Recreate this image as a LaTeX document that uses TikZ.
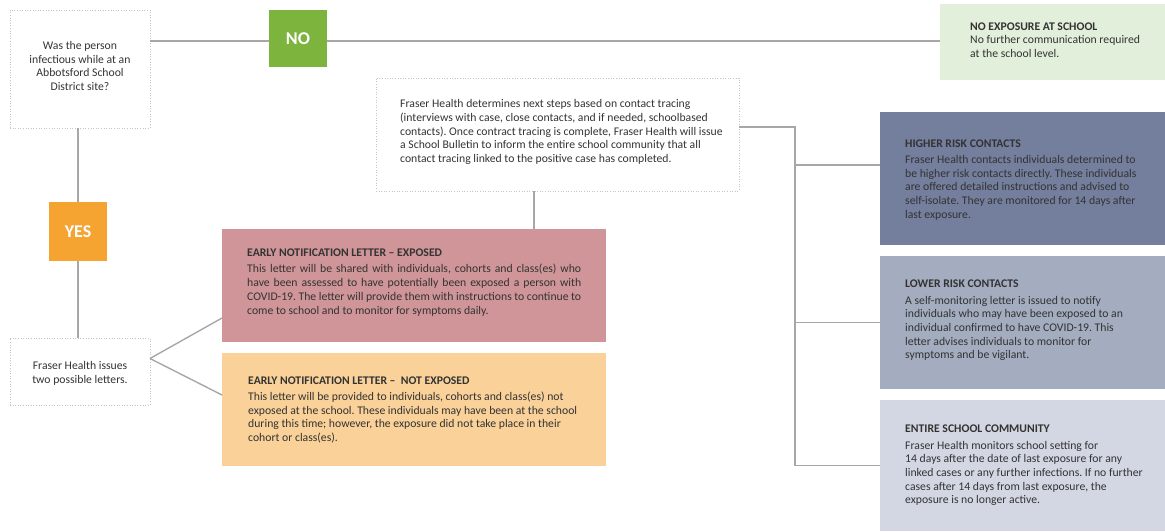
\documentclass[tikz,border=0pt]{standalone}
\usepackage{fontspec}
\setmainfont{Carlito}
\frenchspacing
\usetikzlibrary{calc}
\definecolor{nogreen}{HTML}{7DB43E}
\definecolor{yesorange}{HTML}{F5A431}
\definecolor{lightgreen}{HTML}{E2EFDA}
\definecolor{exppink}{HTML}{CF9598}
\definecolor{nexporange}{HTML}{F9D199}
\definecolor{hiblue}{HTML}{747E9D}
\definecolor{loblue}{HTML}{A4ACBF}
\definecolor{entblue}{HTML}{D3D7E3}
\definecolor{connc}{HTML}{ABA6A6}
\definecolor{dotc}{HTML}{C4C4C4}
\definecolor{textc}{HTML}{333333}
\begin{document}
\begin{tikzpicture}[x=1pt,y=-1pt,
  box/.style={anchor=north west, inner sep=0pt, outer sep=0pt},
  dotbox/.style={box, draw=dotc, line width=1pt, dash pattern=on 1pt off 1.6pt},
  conn/.style={draw=connc, line width=1.4pt},
  txt/.style={font=\fontsize{11.7}{13.7}\selectfont, text=textc, align=left, inner sep=0pt},
  ctxt/.style={txt, align=center},
  badge/.style={box, text=white, font=\fontsize{18}{20}\selectfont\bfseries},
  badgetxt/.style={text=white, font=\fontsize{18}{20}\selectfont\bfseries, inner sep=0pt}]
\useasboundingbox (0,0) rectangle (1165,531);

% boxes
\node[dotbox, minimum width=140pt, minimum height=118pt] (q) at (10,10) {};
\node[badge, fill=nogreen, minimum width=58pt, minimum height=57pt] (no) at (269,10) {};
\node[badgetxt] (notxt) at (no.center) {NO};
\node[box, fill=lightgreen, minimum width=225pt, minimum height=76pt] (noexp) at (940,4) {};
\node[dotbox, minimum width=363pt, minimum height=113pt] (fr) at (376,78) {};
\node[box, fill=hiblue, minimum width=285pt, minimum height=133pt] (hr) at (880,112) {};
\node[box, fill=loblue, minimum width=285pt, minimum height=133pt] (lr) at (880,256) {};
\node[box, fill=entblue, minimum width=285pt, minimum height=131pt] (ent) at (880,400) {};
\node[box, fill=exppink, minimum width=384pt, minimum height=113pt] (exp) at (222,229) {};
\node[box, fill=nexporange, minimum width=384pt, minimum height=113pt] (nexp) at (222,353) {};
\node[badge, fill=yesorange, minimum width=58pt, minimum height=59pt] (yes) at (49,202) {};
\node[badgetxt] (yestxt) at (yes.center) {YES};
\node[dotbox, minimum width=140pt, minimum height=67pt] (let) at (10,338) {};

% texts
\node[ctxt] (qtxt) at ([yshift=3pt]q.center) {Was the person\\infectious while at an\\Abbotsford School\\District site?};
\node[ctxt] (lettxt) at ([yshift=-2pt]let.center) {Fraser Health issues\\two possible letters.};
\node[txt, anchor=west] (frtxt) at ([xshift=24pt,yshift=2.5pt]fr.west) {Fraser Health determines next steps based on contact tracing\\(interviews with case, close contacts, and if needed, schoolbased\\contacts). Once contract tracing is complete, Fraser Health will issue\\a School Bulletin to inform the entire school community that all\\contact tracing linked to the positive case has completed.};
\node[txt, anchor=west] (noexptxt) at ([xshift=30pt,yshift=2pt]noexp.west) {\textbf{NO EXPOSURE AT SCHOOL}\\No further communication required\\at the school level.};
\node[txt, anchor=west] (hrtxt) at ([xshift=25pt,yshift=-1.5pt]hr.west) {\textbf{HIGHER RISK CONTACTS}\\[2.5pt]Fraser Health contacts individuals determined to\\be higher risk contacts directly. These individuals\\are offered detailed instructions and advised to\\self-isolate. They are monitored for 14 days after\\last exposure.};
\node[txt, anchor=west] (lrtxt) at ([xshift=25pt,yshift=2pt]lr.west) {\textbf{LOWER RISK CONTACTS}\\[2.5pt]A self-monitoring letter is issued to notify\\individuals who may have been exposed to an\\individual confirmed to have COVID-19. This\\letter advises individuals to monitor for\\symptoms and be vigilant.};
\node[txt, anchor=west] (enttxt) at ([xshift=25pt,yshift=0pt]ent.west) {\textbf{ENTIRE SCHOOL COMMUNITY}\\[2.5pt]Fraser Health monitors school setting for\\14 days after the date of last exposure for any\\linked cases or any further infections. If no further\\cases after 14 days from last exposure, the\\exposure is no longer active.};
\node[txt, anchor=west] (exptxt) at ([xshift=25pt,yshift=3pt]exp.west) {\textbf{EARLY NOTIFICATION LETTER -- EXPOSED}\\[2.5pt]\makebox[334pt][s]{This letter will be shared with individuals, cohorts and class(es) who}\\\makebox[334pt][s]{have been assessed to have potentially been exposed a person with}\\\makebox[334pt][s]{COVID-19. The letter will provide them with instructions to continue to}\\come to school and to monitor for symptoms daily.};
\node[txt, anchor=west] (nexptxt) at ([xshift=26pt,yshift=-0.5pt]nexp.west) {\textbf{EARLY NOTIFICATION LETTER --\ \ NOT EXPOSED}\\[2.5pt]This letter will be provided to individuals, cohorts and class(es) not\\exposed at the school. These individuals may have been at the school\\during this time; however, the exposure did not take place in their\\cohort or class(es).};

% connectors
\draw[conn] ([yshift=-2.5pt]no.west -| q.east) -- ([yshift=-2.5pt]no.west);
\draw[conn] ([yshift=-2.5pt]no.east) -- ([yshift=-2.5pt]no.east -| noexp.west);
\draw[conn] (yes.north |- q.south) -- (yes.north);
\draw[conn] (yes.south) -- (yes.south |- let.north);
\coordinate (j) at ([yshift=13pt]let.east);
\draw[conn] (j) -- ([yshift=24pt]exp.south west);
\draw[conn] (j) -- ([yshift=-42pt]nexp.north west);
\draw[conn] ([xshift=-23.5pt]fr.south) -- ([xshift=-23.5pt]fr.south |- exp.north);
\coordinate (bx) at (795,0);
\draw[conn] ([yshift=7.5pt]fr.east) -| (bx |- ent.west) -- (ent.west);
\draw[conn] ([yshift=13.5pt]bx |- hr.west) -- ([yshift=13.5pt]hr.west);
\draw[conn] (bx |- lr.west) -- (lr.west);
\end{tikzpicture}
\end{document}
